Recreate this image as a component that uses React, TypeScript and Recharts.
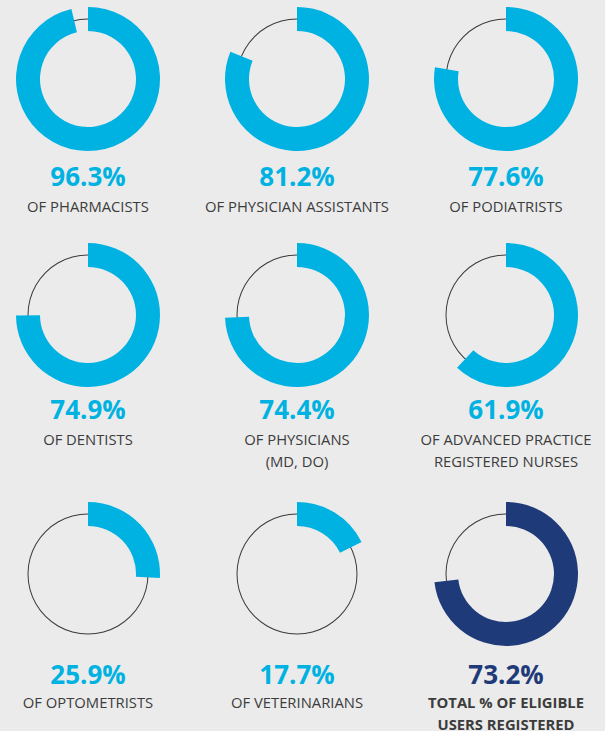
import { PieChart, Pie, Cell } from "recharts";

const categories = [
  ["OF PHARMACISTS"],
  ["OF PHYSICIAN ASSISTANTS"],
  ["OF PODIATRISTS"],
  ["OF DENTISTS"],
  ["OF PHYSICIANS", "(MD, DO)"],
  ["OF ADVANCED PRACTICE", "REGISTERED NURSES"],
  ["OF OPTOMETRISTS"],
  ["OF VETERINARIANS"],
  ["TOTAL % OF ELIGIBLE", "USERS REGISTERED"],
];
const values = [96.3, 81.2, 77.6, 74.9, 74.4, 61.9, 25.9, 17.7, 73.2];
const isTotal = [false, false, false, false, false, false, false, false, true];

const BLUE = "#00B2E2";
const NAVY = "#1E3A78";
const BG = "#EBEBEB";

const colX = [88, 297, 506];
const rowY = [79, 315, 574];
const pctOffset = [98, 95, 101];
const labelOffset = [128, 125, 129];

function Donut({ value, color }) {
  const data = [
    { name: "yes", value },
    { name: "rest", value: 100 - value },
  ];
  return (
    <PieChart width={200} height={160} margin={{ top: 0, right: 0, bottom: 0, left: 0 }}>
      <Pie
        data={[{ name: "ring", value: 1 }]}
        dataKey="value"
        cx={100}
        cy={80}
        innerRadius={59.5}
        outerRadius={60.5}
        startAngle={90}
        endAngle={-270}
        fill="#3a3a3a"
        stroke="none"
        isAnimationActive={false}
      />
      <Pie
        data={data}
        dataKey="value"
        cx={100}
        cy={80}
        innerRadius={48}
        outerRadius={72}
        startAngle={90}
        endAngle={-270}
        stroke="none"
        isAnimationActive={false}
      >
        <Cell fill={color} />
        <Cell fill="none" />
      </Pie>
    </PieChart>
  );
}

export default function App() {
  return (
    <div
      style={{
        position: "absolute",
        left: 0,
        top: 0,
        width: 605,
        height: 731,
        background: BG,
        overflow: "hidden",
        fontFamily: "'Open Sans', sans-serif",
      }}
    >
      {values.map((v, i) => {
        const cx = colX[i % 3];
        const r = Math.floor(i / 3);
        const cy = rowY[r];
        const color = isTotal[i] ? NAVY : BLUE;
        return (
          <div key={i}>
            <div style={{ position: "absolute", left: cx - 100, top: cy - 80 }}>
              <Donut value={v} color={color} />
            </div>
            <div
              style={{
                position: "absolute",
                left: cx - 100,
                width: 200,
                top: cy + pctOffset[r] - 16,
                lineHeight: "30px",
                fontSize: 26,
                fontWeight: 700,
                color,
                textAlign: "center",
              }}
            >
              {v.toFixed(1)}%
            </div>
            <div
              style={{
                position: "absolute",
                left: cx - 110,
                width: 220,
                top: cy + labelOffset[r] - 11,
                lineHeight: "21.5px",
                fontSize: 14.8,
                fontWeight: isTotal[i] ? 700 : 400,
                color: "#3c3c3c",
                textAlign: "center",
                whiteSpace: "nowrap",
              }}
            >
              {categories[i].map((line, j) => (
                <div key={j}>{line}</div>
              ))}
            </div>
          </div>
        );
      })}
    </div>
  );
}
